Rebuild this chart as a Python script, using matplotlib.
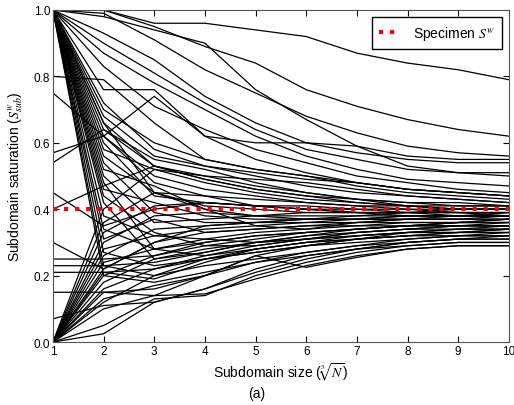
import matplotlib
matplotlib.use('Agg')
import matplotlib.pyplot as plt
import numpy as np

plt.rcParams['font.family'] = ['Liberation Sans', 'DejaVu Sans']
plt.rcParams['mathtext.fontset'] = 'stix'

sizes = [1, 2, 3, 4, 5, 6, 7, 8, 9, 10]
specimen_sw = 0.40

# subdomain saturation curves, one per sampling location
curves = [
    # starting fully saturated
    [1.00, 1.00, 0.96, 0.96, 0.94, 0.92, 0.87, 0.84, 0.82, 0.79],
    [1.00, 1.00, 0.95, 0.89, 0.84, 0.76, 0.71, 0.67, 0.64, 0.62],
    [1.00, 0.99, 0.91, 0.82, 0.75, 0.68, 0.63, 0.59, 0.57, 0.56],
    [1.00, 0.98, 0.94, 0.90, 0.76, 0.67, 0.59, 0.53, 0.51, 0.50],
    [1.00, 0.93, 0.85, 0.74, 0.66, 0.60, 0.57, 0.55, 0.54, 0.54],
    [1.00, 0.90, 0.81, 0.72, 0.64, 0.58, 0.55, 0.52, 0.51, 0.51],
    [1.00, 0.87, 0.78, 0.70, 0.62, 0.56, 0.52, 0.49, 0.48, 0.47],
    [1.00, 0.83, 0.71, 0.64, 0.58, 0.54, 0.50, 0.48, 0.46, 0.45],
    [1.00, 0.76, 0.76, 0.62, 0.60, 0.60, 0.59, 0.56, 0.55, 0.55],
    [1.00, 0.70, 0.60, 0.55, 0.52, 0.50, 0.47, 0.45, 0.44, 0.43],
    [1.00, 0.66, 0.53, 0.49, 0.46, 0.44, 0.43, 0.42, 0.42, 0.41],
    [1.00, 0.64, 0.55, 0.52, 0.48, 0.45, 0.43, 0.41, 0.40, 0.40],
    [1.00, 0.62, 0.50, 0.46, 0.44, 0.42, 0.41, 0.40, 0.39, 0.39],
    [1.00, 0.60, 0.44, 0.42, 0.41, 0.41, 0.40, 0.39, 0.39, 0.38],
    [1.00, 0.58, 0.52, 0.50, 0.49, 0.48, 0.46, 0.44, 0.43, 0.42],
    [1.00, 0.56, 0.45, 0.40, 0.38, 0.37, 0.37, 0.37, 0.37, 0.37],
    [1.00, 0.54, 0.39, 0.36, 0.36, 0.36, 0.36, 0.36, 0.36, 0.36],
    [1.00, 0.52, 0.47, 0.40, 0.35, 0.34, 0.35, 0.35, 0.35, 0.35],
    [1.00, 0.50, 0.36, 0.37, 0.38, 0.39, 0.39, 0.39, 0.38, 0.38],
    [1.00, 0.48, 0.28, 0.30, 0.32, 0.33, 0.34, 0.35, 0.36, 0.36],
    [1.00, 0.46, 0.42, 0.38, 0.37, 0.37, 0.37, 0.38, 0.38, 0.38],
    [1.00, 0.44, 0.33, 0.29, 0.29, 0.31, 0.33, 0.34, 0.34, 0.35],
    [1.00, 0.42, 0.25, 0.27, 0.30, 0.32, 0.34, 0.35, 0.36, 0.37],
    [1.00, 0.38, 0.32, 0.31, 0.30, 0.31, 0.32, 0.33, 0.33, 0.34],
    [1.00, 0.34, 0.28, 0.26, 0.28, 0.30, 0.31, 0.32, 0.33, 0.33],
    [1.00, 0.31, 0.37, 0.33, 0.34, 0.35, 0.36, 0.37, 0.37, 0.38],
    [1.00, 0.27, 0.23, 0.25, 0.27, 0.29, 0.31, 0.32, 0.32, 0.32],
    [1.00, 0.23, 0.20, 0.23, 0.25, 0.27, 0.29, 0.30, 0.31, 0.31],
    [1.00, 0.20, 0.18, 0.21, 0.24, 0.26, 0.28, 0.29, 0.30, 0.30],
    [1.00, 0.66, 0.45, 0.41, 0.40, 0.39, 0.39, 0.39, 0.40, 0.40],
    [1.00, 0.68, 0.56, 0.53, 0.50, 0.47, 0.45, 0.44, 0.43, 0.42],
    [1.00, 0.72, 0.58, 0.53, 0.51, 0.49, 0.48, 0.46, 0.45, 0.44],
    # intermediate starts
    [0.80, 0.79, 0.66, 0.55, 0.52, 0.50, 0.48, 0.46, 0.45, 0.44],
    [0.75, 0.62, 0.48, 0.44, 0.41, 0.40, 0.39, 0.38, 0.38, 0.38],
    [0.57, 0.62, 0.74, 0.62, 0.55, 0.51, 0.48, 0.46, 0.45, 0.44],
    [0.54, 0.64, 0.53, 0.49, 0.46, 0.44, 0.42, 0.41, 0.40, 0.40],
    [0.40, 0.47, 0.53, 0.50, 0.47, 0.45, 0.43, 0.42, 0.41, 0.41],
    [0.25, 0.25, 0.26, 0.29, 0.31, 0.33, 0.34, 0.35, 0.36, 0.36],
    [0.23, 0.23, 0.24, 0.27, 0.30, 0.32, 0.33, 0.34, 0.35, 0.35],
    [0.21, 0.21, 0.22, 0.25, 0.28, 0.30, 0.31, 0.32, 0.33, 0.34],
    [0.15, 0.15, 0.16, 0.20, 0.24, 0.27, 0.29, 0.31, 0.32, 0.33],
    [0.07, 0.11, 0.12, 0.16, 0.21, 0.25, 0.28, 0.30, 0.31, 0.32],
    [0.30, 0.22, 0.30, 0.35, 0.36, 0.37, 0.38, 0.38, 0.38, 0.38],
    [0.45, 0.35, 0.40, 0.42, 0.41, 0.40, 0.39, 0.39, 0.39, 0.39],
    # starting dry
    [0.00, 0.05, 0.13, 0.14, 0.20, 0.24, 0.27, 0.29, 0.30, 0.30],
    [0.00, 0.025, 0.12, 0.16, 0.22, 0.26, 0.28, 0.30, 0.31, 0.31],
    [0.00, 0.10, 0.14, 0.145, 0.19, 0.23, 0.26, 0.28, 0.29, 0.29],
    [0.00, 0.13, 0.17, 0.20, 0.26, 0.225, 0.255, 0.28, 0.29, 0.29],
    [0.00, 0.15, 0.14, 0.20, 0.26, 0.29, 0.31, 0.33, 0.34, 0.34],
    [0.00, 0.18, 0.25, 0.28, 0.30, 0.31, 0.33, 0.34, 0.35, 0.35],
    [0.00, 0.20, 0.26, 0.30, 0.32, 0.33, 0.34, 0.35, 0.35, 0.36],
    [0.00, 0.22, 0.30, 0.33, 0.34, 0.35, 0.35, 0.36, 0.36, 0.37],
    [0.00, 0.24, 0.28, 0.31, 0.33, 0.34, 0.36, 0.37, 0.37, 0.37],
    [0.00, 0.26, 0.34, 0.35, 0.36, 0.37, 0.37, 0.38, 0.38, 0.38],
    [0.00, 0.28, 0.32, 0.34, 0.35, 0.36, 0.37, 0.37, 0.38, 0.39],
    [0.00, 0.30, 0.38, 0.39, 0.38, 0.38, 0.38, 0.39, 0.39, 0.39],
    [0.00, 0.33, 0.41, 0.42, 0.41, 0.40, 0.40, 0.40, 0.40, 0.40],
    [0.00, 0.36, 0.45, 0.44, 0.43, 0.42, 0.41, 0.41, 0.40, 0.40],
    [0.00, 0.40, 0.52, 0.48, 0.45, 0.43, 0.42, 0.41, 0.41, 0.41],
    [0.00, 0.21, 0.19, 0.24, 0.28, 0.30, 0.32, 0.33, 0.34, 0.34],
    [0.00, 0.16, 0.22, 0.26, 0.29, 0.31, 0.32, 0.33, 0.33, 0.33],
    [0.00, 0.12, 0.20, 0.25, 0.27, 0.29, 0.30, 0.31, 0.32, 0.32],
]

fig = plt.figure(figsize=(5.14, 4.06), dpi=100)
ax = fig.add_axes([0.103, 0.155, 0.887, 0.818])

for c in curves:
    ax.plot(sizes, c, color='black', linewidth=0.9)

ax.plot([sizes[0], sizes[-1]], [specimen_sw, specimen_sw], color='red',
        linestyle=':', linewidth=3, label='Specimen $S^w$')

ax.set_xlim(1, 10)
ax.set_ylim(0, 1)
ax.set_xticks(sizes)
ax.set_yticks(np.arange(0, 1.01, 0.2))
ax.set_yticklabels(['0.0', '0.2', '0.4', '0.6', '0.8', '1.0'])
ax.tick_params(direction='in', top=True, right=True, labelsize=8.5, length=4, pad=2)
for s in ax.spines.values():
    s.set_color('#555555')

ax.set_xlabel('Subdomain size ($\\sqrt[3]{N}$)', fontsize=10, labelpad=3)
ax.set_ylabel('Subdomain saturation ($S^w_{sub}$)', fontsize=10, labelpad=6)
ax.legend(loc='upper right', fontsize=10, fancybox=False, edgecolor='black',
          framealpha=1, handlelength=1.2, handletextpad=1.2, borderpad=0.5)
fig.text(0.5, 0.02, '(a)', ha='center', fontsize=10)

plt.savefig('out.png', dpi=100)
